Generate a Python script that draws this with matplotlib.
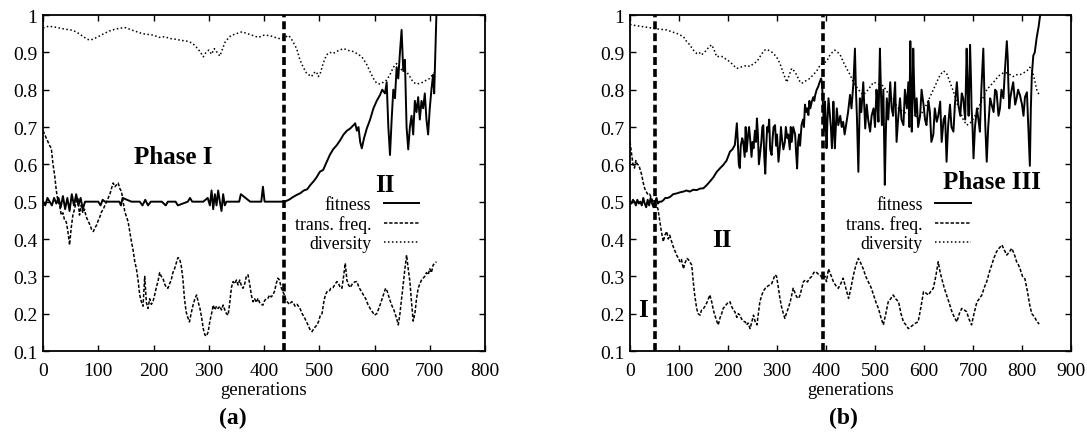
"""
plot.py - fitness / trans. freq. / diversity over generations, two runs
"""
import matplotlib
matplotlib.use('Agg')
import matplotlib.pyplot as plt

# ---- run (a) ----
a_fit_gen = [0, 4, 8, 12, 16, 20, 24, 28, 32, 36,
             40, 44, 48, 52, 56, 60, 64, 68, 72, 76,
             85, 100, 104, 108, 112, 125, 138, 141, 144, 160,
             175, 180, 185, 190, 195, 215, 222, 226, 240, 244,
             262, 266, 270, 290, 298, 302, 305, 308, 311, 314,
             317, 320, 323, 326, 329, 332, 345, 355, 358, 375,
             395, 398, 401, 404, 420, 437,
             445, 452, 459, 466, 472, 478, 484, 490, 495, 501,
             507, 513, 519, 525, 532, 538, 544, 550, 556, 562,
             565, 568, 571, 574, 577, 581, 586, 592, 598, 604,
             610, 614, 619, 622, 625, 628, 631, 634, 637, 640,
             643, 646, 649, 652, 655, 658, 661, 664, 667, 670,
             673, 676, 679, 682, 685, 688, 691, 694, 697, 700,
             703, 706, 708, 710, 712]
a_fit = [0.50, 0.49, 0.51, 0.50, 0.49, 0.51, 0.495, 0.51, 0.485, 0.515,
         0.48, 0.51, 0.475, 0.52, 0.49, 0.52, 0.49, 0.51, 0.48, 0.50,
         0.50, 0.50, 0.49, 0.505, 0.50, 0.50, 0.50, 0.49, 0.51, 0.50,
         0.50, 0.49, 0.505, 0.49, 0.50, 0.50, 0.49, 0.50, 0.50, 0.49,
         0.50, 0.51, 0.50, 0.50, 0.51, 0.49, 0.53, 0.48, 0.52, 0.49,
         0.53, 0.50, 0.475, 0.52, 0.49, 0.50, 0.50, 0.50, 0.52, 0.50,
         0.50, 0.54, 0.50, 0.50, 0.50, 0.50,
         0.505, 0.512, 0.518, 0.523, 0.53, 0.533, 0.545, 0.555, 0.565, 0.58,
         0.585, 0.605, 0.625, 0.64, 0.652, 0.665, 0.68, 0.69, 0.696, 0.705,
         0.71, 0.69, 0.70, 0.66, 0.643, 0.67, 0.696, 0.72, 0.75, 0.77,
         0.786, 0.80, 0.79, 0.82, 0.70, 0.625, 0.72, 0.80, 0.777, 0.86,
         0.83, 0.90, 0.96, 0.85, 0.88, 0.70, 0.64, 0.70, 0.73, 0.68,
         0.77, 0.74, 0.78, 0.72, 0.77, 0.75, 0.79, 0.72, 0.68, 0.75,
         0.80, 0.84, 0.79, 0.90, 1.00]

a_tr_gen = [0, 3, 6, 9, 12, 15, 18, 21, 24, 27,
            30, 33, 36, 39, 42, 45, 48, 51, 54, 57,
            60, 63, 66, 69, 72, 75, 78, 81, 85, 88,
            91, 94, 97, 100, 103, 106, 109, 112, 115, 118,
            121, 124, 127, 130, 133, 136, 139, 142, 145, 148,
            151, 154, 157, 160, 163, 166, 169, 172, 175, 178,
            181, 184, 187, 190, 193, 196, 199, 202, 205, 208,
            211, 214, 217, 220, 223, 226, 229, 232, 235, 238,
            241, 244, 247, 250, 253, 256, 259, 262, 265, 268,
            271, 275, 278, 281, 284, 287, 290, 293, 296, 299,
            302, 305, 308, 311, 314, 317, 320, 323, 326, 329,
            332, 335, 338, 341, 344, 347, 350, 353, 356, 359,
            362, 365, 368, 371, 374, 377, 380, 383, 386, 389,
            392, 395, 398, 401, 404, 407, 410, 413, 416, 419,
            422, 425, 428, 431, 434, 437, 440, 443, 446, 450,
            453, 456, 460, 465, 469, 473, 477, 481, 484, 487,
            490, 493, 496, 499, 502, 505, 508, 511, 514, 518,
            521, 525, 529, 532, 535, 538, 541, 544, 547, 550,
            553, 556, 560, 564, 568, 572, 576, 580, 584, 588,
            592, 596, 600, 604, 608, 612, 616, 620, 623, 627,
            631, 635, 640, 643, 646, 649, 652, 655, 658, 661,
            664, 667, 670, 673, 676, 679, 682, 685, 688, 691,
            694, 697, 700, 703, 706, 709, 712]
a_tr = [0.69, 0.68, 0.67, 0.66, 0.65, 0.643, 0.60, 0.571, 0.53, 0.50,
        0.49, 0.464, 0.47, 0.45, 0.446, 0.42, 0.384, 0.43, 0.464, 0.48,
        0.50, 0.51, 0.464, 0.49, 0.47, 0.48, 0.46, 0.45, 0.4375, 0.425,
        0.42, 0.43, 0.4375, 0.45, 0.46, 0.473, 0.48, 0.49, 0.50, 0.51,
        0.52, 0.536, 0.55, 0.54, 0.545, 0.55, 0.535, 0.527, 0.50, 0.473,
        0.46, 0.446, 0.42, 0.393, 0.37, 0.34, 0.32, 0.29, 0.25, 0.232,
        0.22, 0.30, 0.23, 0.214, 0.24, 0.225, 0.232, 0.25, 0.27, 0.286,
        0.31, 0.30, 0.295, 0.28, 0.27, 0.268, 0.28, 0.29, 0.31, 0.32,
        0.335, 0.35, 0.348, 0.33, 0.295, 0.24, 0.205, 0.19, 0.178, 0.20,
        0.22, 0.241, 0.25, 0.23, 0.214, 0.19, 0.16, 0.143, 0.14, 0.152,
        0.18, 0.20, 0.223, 0.21, 0.22, 0.214, 0.22, 0.21, 0.223, 0.21,
        0.20, 0.196, 0.23, 0.27, 0.286, 0.28, 0.29, 0.277, 0.29, 0.275,
        0.268, 0.28, 0.30, 0.304, 0.28, 0.25, 0.232, 0.24, 0.23, 0.241,
        0.23, 0.225, 0.223, 0.235, 0.24, 0.241, 0.25, 0.245, 0.25, 0.26,
        0.28, 0.295, 0.29, 0.27, 0.259, 0.25, 0.235, 0.23, 0.225, 0.232,
        0.23, 0.22, 0.225, 0.214, 0.20, 0.19, 0.178, 0.165, 0.155, 0.152,
        0.16, 0.165, 0.17, 0.18, 0.196, 0.20, 0.23, 0.25, 0.259, 0.26,
        0.268, 0.27, 0.28, 0.286, 0.28, 0.27, 0.268, 0.30, 0.335, 0.29,
        0.277, 0.27, 0.28, 0.285, 0.286, 0.27, 0.26, 0.25, 0.24, 0.225,
        0.214, 0.205, 0.196, 0.20, 0.215, 0.232, 0.25, 0.268, 0.26, 0.24,
        0.223, 0.21, 0.1875, 0.17, 0.20, 0.241, 0.28, 0.32, 0.357, 0.32,
        0.286, 0.23, 0.18, 0.20, 0.24, 0.268, 0.28, 0.29, 0.295, 0.30,
        0.31, 0.304, 0.32, 0.31, 0.33, 0.335, 0.339]

a_div_gen = [0, 10, 20, 30, 40, 50, 60, 70, 80, 85,
             90, 100, 110, 120, 130, 140, 150, 160, 170, 180,
             190, 200, 210, 220, 230, 240, 250, 260, 270, 280,
             285, 290, 295, 300, 305, 310, 315, 320, 325, 330,
             340, 350, 360, 370, 380, 390, 400, 410, 420, 430,
             437, 445, 452, 459, 465, 471, 477, 481, 486, 490,
             495, 498, 501, 507, 513, 519, 525, 535, 544, 553,
             562, 570, 577, 585, 592, 598, 604, 610, 616, 622,
             628, 634, 640, 646, 652, 658, 664, 670, 676, 682,
             688, 694, 700, 705, 710]
a_div = [0.965, 0.97, 0.968, 0.965, 0.962, 0.96, 0.955, 0.945, 0.935, 0.933,
         0.935, 0.942, 0.95, 0.957, 0.962, 0.965, 0.966, 0.96, 0.955, 0.95,
         0.948, 0.946, 0.94, 0.942, 0.937, 0.935, 0.932, 0.93, 0.925, 0.91,
         0.90, 0.888, 0.90, 0.906, 0.895, 0.91, 0.90, 0.89, 0.91, 0.929,
         0.945, 0.95, 0.955, 0.95, 0.945, 0.94, 0.946, 0.945, 0.94, 0.936,
         0.94, 0.945, 0.93, 0.91, 0.88, 0.86, 0.844, 0.84, 0.835, 0.845,
         0.848, 0.835, 0.84, 0.87, 0.893, 0.90, 0.897, 0.905, 0.91, 0.905,
         0.902, 0.895, 0.888, 0.87, 0.848, 0.83, 0.817, 0.815, 0.82, 0.826,
         0.84, 0.86, 0.87, 0.857, 0.85, 0.848, 0.835, 0.82, 0.815, 0.817,
         0.82, 0.826, 0.83, 0.84, 0.848]

# ---- run (b) ----
b_fit_gen = [0, 3, 6, 9, 12, 15, 18, 21, 24, 27,
             30, 33, 36, 39, 42, 45, 48, 51, 54, 57,
             60, 64, 68, 72, 77, 82, 88, 95, 102, 109,
             115, 122, 129, 136, 143, 150, 157, 163, 170, 177,
             184, 190, 197, 204, 209, 214, 216, 218, 220, 222,
             224, 226, 229, 231, 234, 236, 238, 241, 243, 245,
             248, 250, 252, 255, 257, 259, 261, 263, 265, 268,
             270, 272, 274, 276, 278, 280, 282, 284, 286, 289,
             291, 293, 296, 298, 300, 303, 306, 308, 310, 313,
             316, 318, 321, 323, 326, 328, 330, 333, 335, 337,
             339, 341, 343, 345, 347, 350, 353, 355, 357, 360,
             362, 364, 366, 368, 371, 374, 376, 378, 381, 384,
             387, 390, 392, 394, 396, 398, 401, 403, 405, 408,
             410, 412, 414, 415, 418, 420, 422, 425, 429, 432,
             435, 438, 442, 445, 449, 452, 456, 459, 461, 463,
             466, 469, 472, 476, 478, 480, 483, 486, 490, 493,
             497, 500, 503, 505, 507, 510, 512, 514, 517, 520,
             522, 524, 527, 531, 534, 537, 539, 541, 544, 547,
             551, 554, 558, 561, 565, 568, 570, 572, 574, 575,
             577, 578, 580, 582, 585, 588, 592, 595, 599, 602,
             605, 609, 612, 615, 619, 622, 626, 629, 633, 636,
             640, 643, 646, 649, 653, 656, 660, 663, 667, 670,
             674, 677, 680, 684, 687, 689, 691, 694, 696, 697,
             699, 701, 704, 708, 711, 714, 717, 721, 723, 725,
             728, 731, 735, 738, 742, 745, 748, 752, 755, 758,
             762, 765, 769, 771, 772, 774, 776, 779, 782, 786,
             789, 792, 796, 800, 803, 806, 810, 813, 816, 818,
             820, 823, 826, 830, 834, 837]
b_fit = [0.50, 0.495, 0.505, 0.50, 0.49, 0.505, 0.495, 0.50, 0.49, 0.51,
         0.495, 0.485, 0.505, 0.49, 0.51, 0.495, 0.485, 0.50, 0.51, 0.495,
         0.50, 0.50, 0.504, 0.51, 0.51, 0.513, 0.52, 0.522, 0.525, 0.527,
         0.53, 0.527, 0.532, 0.531, 0.535, 0.536, 0.545, 0.554, 0.565, 0.58,
         0.59, 0.598, 0.61, 0.634, 0.64, 0.652, 0.68, 0.71, 0.66, 0.60,
         0.59, 0.65, 0.67, 0.66, 0.62, 0.70, 0.634, 0.68, 0.70, 0.67,
         0.62, 0.66, 0.643, 0.69, 0.66, 0.723, 0.68, 0.60, 0.625, 0.66,
         0.70, 0.705, 0.62, 0.575, 0.65, 0.70, 0.6875, 0.72, 0.64, 0.625,
         0.67, 0.70, 0.705, 0.65, 0.68, 0.607, 0.65, 0.70, 0.67, 0.64,
         0.66, 0.70, 0.67, 0.68, 0.64, 0.70, 0.66, 0.70, 0.69, 0.68,
         0.63, 0.589, 0.66, 0.68, 0.65, 0.705, 0.72, 0.70, 0.76, 0.74,
         0.75, 0.732, 0.77, 0.75, 0.768, 0.78, 0.77, 0.786, 0.80, 0.808,
         0.82, 0.83, 0.815, 0.75, 0.69, 0.768, 0.643, 0.72, 0.777, 0.73,
         0.70, 0.643, 0.70, 0.768, 0.643, 0.70, 0.75, 0.705, 0.73, 0.70,
         0.714, 0.68, 0.714, 0.74, 0.786, 0.75, 0.82, 0.91, 0.80, 0.73,
         0.58, 0.777, 0.74, 0.82, 0.76, 0.696, 0.76, 0.72, 0.6875, 0.73,
         0.75, 0.70, 0.80, 0.76, 0.714, 0.91, 0.80, 0.705, 0.80, 0.545,
         0.68, 0.777, 0.72, 0.82, 0.75, 0.73, 0.78, 0.82, 0.66, 0.72,
         0.777, 0.72, 0.705, 0.80, 0.75, 0.82, 0.70, 0.93, 0.78, 0.6875,
         0.80, 0.91, 0.80, 0.73, 0.777, 0.70, 0.73, 0.80, 0.76, 0.72,
         0.705, 0.77, 0.74, 0.66, 0.68, 0.75, 0.714, 0.73, 0.768, 0.66,
         0.72, 0.73, 0.607, 0.70, 0.76, 0.70, 0.6875, 0.76, 0.82, 0.76,
         0.73, 0.79, 0.777, 0.72, 0.91, 0.80, 0.73, 0.92, 0.82, 0.75,
         0.70, 0.616, 0.70, 0.75, 0.72, 0.6875, 0.80, 0.91, 0.80, 0.705,
         0.607, 0.70, 0.777, 0.76, 0.74, 0.80, 0.795, 0.73, 0.75, 0.80,
         0.777, 0.85, 0.93, 0.88, 0.82, 0.75, 0.777, 0.80, 0.82, 0.76,
         0.777, 0.80, 0.784, 0.76, 0.73, 0.78, 0.793, 0.695, 0.596, 0.75,
         0.838, 0.891, 0.90, 0.94, 0.97, 1.00]

b_tr_gen = [0, 3, 6, 9, 12, 15, 18, 21, 24, 27,
            30, 33, 37, 40, 44, 47, 50, 54, 57, 61,
            64, 68, 71, 75, 78, 81, 85, 88, 91, 95,
            98, 102, 105, 109, 112, 116, 119, 122, 126, 129,
            132, 136, 139, 143, 146, 150, 153, 157, 160, 163,
            167, 170, 173, 177, 180, 184, 187, 190, 194, 197,
            200, 204, 207, 211, 214, 218, 221, 224, 228, 231,
            235, 238, 241, 245, 248, 252, 255, 259, 262, 265,
            269, 272, 276, 279, 282, 286, 289, 292, 296, 299,
            303, 306, 310, 313, 316, 319, 323, 327, 330, 333,
            337, 340, 344, 347, 350, 354, 358, 362, 367, 371,
            375, 378, 381, 385, 388, 392, 395, 398, 401, 405,
            408, 411, 415, 420, 425, 430, 435, 440, 446, 451,
            456, 461, 466, 471, 476, 481, 486, 492, 497, 502,
            507, 512, 517, 522, 527, 532, 537, 542, 548, 553,
            558, 563, 568, 573, 578, 583, 588, 594, 599, 604,
            609, 614, 619, 624, 629, 633, 636, 641, 646, 651,
            657, 662, 667, 672, 677, 682, 687, 692, 697, 702,
            708, 713, 718, 723, 728, 733, 738, 743, 748, 753,
            759, 764, 769, 774, 779, 784, 789, 793, 796, 801,
            806, 811, 816, 820, 823, 826, 830, 835]
b_tr = [0.66, 0.63, 0.60, 0.59, 0.61, 0.60, 0.598, 0.585, 0.571, 0.55,
        0.535, 0.527, 0.518, 0.52, 0.509, 0.50, 0.495, 0.491, 0.48, 0.446,
        0.42, 0.393, 0.41, 0.42, 0.40, 0.41, 0.393, 0.38, 0.37, 0.357,
        0.35, 0.339, 0.345, 0.32, 0.335, 0.348, 0.345, 0.339, 0.33, 0.286,
        0.25, 0.214, 0.20, 0.196, 0.21, 0.214, 0.22, 0.23, 0.24, 0.25,
        0.23, 0.21, 0.196, 0.18, 0.17, 0.19, 0.20, 0.214, 0.22, 0.225,
        0.23, 0.232, 0.22, 0.21, 0.205, 0.19, 0.20, 0.196, 0.185, 0.18,
        0.178, 0.17, 0.175, 0.16, 0.175, 0.196, 0.18, 0.17, 0.20, 0.232,
        0.25, 0.26, 0.268, 0.27, 0.275, 0.277, 0.28, 0.29, 0.304, 0.30,
        0.268, 0.24, 0.214, 0.20, 0.1875, 0.20, 0.215, 0.232, 0.25, 0.268,
        0.255, 0.245, 0.241, 0.25, 0.265, 0.286, 0.29, 0.285, 0.295, 0.30,
        0.31, 0.313, 0.31, 0.305, 0.304, 0.295, 0.295, 0.30, 0.286, 0.32,
        0.31, 0.30, 0.286, 0.275, 0.268, 0.28, 0.295, 0.27, 0.241, 0.27,
        0.304, 0.33, 0.348, 0.335, 0.32, 0.30, 0.286, 0.27, 0.25, 0.23,
        0.214, 0.19, 0.17, 0.20, 0.232, 0.24, 0.25, 0.24, 0.232, 0.20,
        0.178, 0.17, 0.16, 0.165, 0.17, 0.175, 0.178, 0.22, 0.259, 0.255,
        0.25, 0.26, 0.268, 0.30, 0.339, 0.31, 0.295, 0.27, 0.25, 0.23,
        0.205, 0.19, 0.178, 0.20, 0.214, 0.21, 0.205, 0.185, 0.17, 0.20,
        0.232, 0.24, 0.25, 0.27, 0.286, 0.31, 0.33, 0.35, 0.366, 0.375,
        0.384, 0.37, 0.357, 0.365, 0.375, 0.36, 0.339, 0.33, 0.32, 0.30,
        0.293, 0.26, 0.221, 0.20, 0.195, 0.19, 0.18, 0.172]

b_div_gen = [0, 10, 20, 30, 40, 51, 60, 75, 85, 95,
             109, 115, 122, 130, 136, 141, 146, 151, 156, 161,
             167, 172, 177, 184, 190, 197, 204, 211, 218, 225,
             231, 238, 245, 252, 259, 266, 272, 277, 282, 290,
             299, 306, 313, 317, 320, 325, 330, 335, 340, 345,
             350, 355, 361, 367, 374, 381, 388, 395, 401, 408,
             413, 418, 424, 429, 435, 442, 449, 456, 466, 476,
             486, 497, 507, 517, 527, 537, 548, 558, 568, 578,
             585, 592, 599, 605, 612, 619, 626, 633, 640, 646,
             653, 660, 667, 674, 680, 687, 694, 701, 708, 714,
             721, 728, 735, 742, 748, 755, 762, 769, 776, 782,
             789, 796, 803, 810, 816, 820, 825, 830, 835]
b_div = [0.975, 0.972, 0.97, 0.968, 0.966, 0.964, 0.962, 0.96, 0.955, 0.951,
         0.942, 0.93, 0.92, 0.905, 0.897, 0.90, 0.893, 0.90, 0.905, 0.915,
         0.92, 0.905, 0.888, 0.89, 0.888, 0.88, 0.875, 0.865, 0.857, 0.86,
         0.862, 0.865, 0.862, 0.87, 0.875, 0.89, 0.902, 0.908, 0.906, 0.90,
         0.888, 0.87, 0.844, 0.83, 0.82, 0.84, 0.857, 0.85, 0.84, 0.825,
         0.817, 0.82, 0.826, 0.83, 0.84, 0.85, 0.866, 0.872, 0.875, 0.893,
         0.90, 0.906, 0.90, 0.893, 0.875, 0.857, 0.84, 0.82, 0.80, 0.786,
         0.80, 0.82, 0.815, 0.81, 0.79, 0.77, 0.75, 0.74, 0.735, 0.73,
         0.728, 0.73, 0.745, 0.76, 0.78, 0.80, 0.82, 0.84, 0.85, 0.844,
         0.82, 0.795, 0.765, 0.74, 0.72, 0.705, 0.71, 0.723, 0.74, 0.76,
         0.78, 0.80, 0.81, 0.82, 0.83, 0.84, 0.845, 0.845, 0.84, 0.835,
         0.84, 0.84, 0.845, 0.85, 0.86, 0.855, 0.83, 0.80, 0.785]

# phase boundaries (generation)
a_phase_lines = [437]
b_phase_lines = [51, 394]

y_ticks = [0.1, 0.2, 0.3, 0.4, 0.5, 0.6, 0.7, 0.8, 0.9, 1.0]
y_ticklabels = ['0.1', '0.2', '0.3', '0.4', '0.5', '0.6', '0.7', '0.8', '0.9', '1']

for gx, gy in [(a_fit_gen, a_fit), (a_tr_gen, a_tr), (a_div_gen, a_div),
               (b_fit_gen, b_fit), (b_tr_gen, b_tr), (b_div_gen, b_div)]:
    assert len(gx) == len(gy), (len(gx), len(gy))

plt.rcParams['font.family'] = ['Liberation Serif', 'DejaVu Serif']
plt.rcParams['axes.linewidth'] = 1.3

fig = plt.figure(figsize=(10.87, 4.35), dpi=100)
ax1 = fig.add_axes([0.0396, 0.1908, 0.4066, 0.7724])
ax2 = fig.add_axes([0.5796, 0.1908, 0.4057, 0.7724])

TR_STYLE = (0, (2.2, 1.2))
DIV_STYLE = (0, (1, 1.6))


def panel(ax, fg, fv, tg, tv, dg, dv, vlines, xmax):
    """one panel: three series, phase lines, ticks"""
    ax.plot(fg, fv, color='black', lw=1.4, label='fitness')
    ax.plot(tg, tv, color='black', lw=1.1, linestyle=TR_STYLE, label='trans. freq.')
    ax.plot(dg, dv, color='black', lw=1.1, linestyle=DIV_STYLE, label='diversity')
    for g in vlines:
        ax.axvline(g, color='black', lw=2.6, linestyle=(0, (2.2, 1.1)))
    ax.set_xlim(0, xmax)
    ax.set_ylim(0.1, 1.0)
    ax.set_xticks(range(0, xmax + 1, 100))
    ax.set_yticks(y_ticks)
    ax.set_yticklabels(y_ticklabels)
    ax.tick_params(direction='in', length=4, width=1.0, top=True, right=True,
                   labelsize=14)
    ax.tick_params(axis='x', pad=8)
    ax.tick_params(axis='y', pad=4)
    ax.set_xlabel('generations', fontsize=13.5, labelpad=1)


panel(ax1, a_fit_gen, a_fit, a_tr_gen, a_tr, a_div_gen, a_div, a_phase_lines, 800)
panel(ax2, b_fit_gen, b_fit, b_tr_gen, b_tr, b_div_gen, b_div, b_phase_lines, 900)

leg_kw = dict(frameon=False, markerfirst=False, fontsize=12.8, handlelength=2.0,
              handletextpad=0.7, labelspacing=0.12, borderpad=0, loc='upper right')
ax1.legend(bbox_to_anchor=(0.871, 0.488), **leg_kw)
ax2.legend(bbox_to_anchor=(0.793, 0.488), **leg_kw)

bold = dict(fontweight='bold', fontsize=18, ha='center', va='center')
ax1.text(235, 0.622, 'Phase I', **bold)
ax1.text(619, 0.547, 'II', **bold)
ax2.text(739, 0.553, 'Phase III', **bold)
ax2.text(188, 0.40, 'II', **bold)
ax2.text(27, 0.2125, 'I', **bold)

fig.text(233 / 1087, 1 - 418 / 435, '(a)', fontweight='bold', fontsize=17,
         ha='center', va='center')
fig.text(843 / 1087, 1 - 418 / 435, '(b)', fontweight='bold', fontsize=17,
         ha='center', va='center')

fig.savefig('out.png', dpi=100)
